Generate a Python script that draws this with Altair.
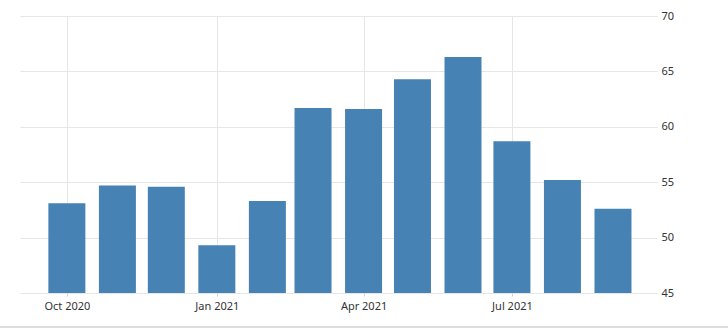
import altair as alt
import pandas as pd

months = ["2020-10-01", "2020-11-01", "2020-12-01", "2021-01-01", "2021-02-01", "2021-03-01",
          "2021-04-01", "2021-05-01", "2021-06-01", "2021-07-01", "2021-08-01", "2021-09-01"]
values = [53.1, 54.7, 54.6, 49.3, 53.3, 61.7, 61.6, 64.3, 66.3, 58.7, 55.2, 52.6]

df = pd.DataFrame({"date": months, "value": values})

tick_dates = [
    alt.DateTime(year=2020, month=10, date=1, utc=True),
    alt.DateTime(year=2021, month=1, date=1, utc=True),
    alt.DateTime(year=2021, month=4, date=1, utc=True),
    alt.DateTime(year=2021, month=7, date=1, utc=True),
]

font = "Noto Sans"

bars = alt.Chart(df).mark_bar(width=37, color="#4682b4", clip=True).encode(
    x=alt.X("date:T",
            scale=alt.Scale(type="utc", nice=False, padding=0,
                            domain=[alt.DateTime(year=2020, month=9, date=2, hours=6, utc=True),
                                    alt.DateTime(year=2021, month=9, date=28, utc=True)]),
            axis=alt.Axis(title=None, values=tick_dates,
                          labelExpr="utcFormat(datum.value, '%b %Y')",
                          grid=True, gridColor="#e6e6e6", gridWidth=1,
                          domain=False, ticks=True, tickSize=3, tickColor="#d0d0d0",
                          labelPadding=4, labelFont=font, labelFontSize=11,
                          labelColor="#333333")),
    y=alt.Y("value:Q",
            scale=alt.Scale(domain=[45, 70], nice=False, zero=False),
            axis=alt.Axis(title=None, orient="right", values=[45, 50, 55, 60, 65, 70],
                          grid=True, gridColor="#e6e6e6", gridWidth=1,
                          domain=False, ticks=False, labelPadding=4,
                          labelFont=font, labelFontSize=11, labelColor="#333333")),
)

bottom = alt.Chart(df).mark_rule(color="#dddddd", strokeWidth=1).encode(
    x=alt.value(-20), x2=alt.value(708), y=alt.value(311)
)

chart = alt.layer(bars, bottom).properties(
    width=637, height=277,
    padding={"left": 20, "top": 16, "right": 71, "bottom": 38},
    autosize=alt.AutoSizeParams(type="none"),
    background="white",
).configure_view(stroke=None)

chart.save("out.html", embed_options={"renderer": "svg", "actions": False})
